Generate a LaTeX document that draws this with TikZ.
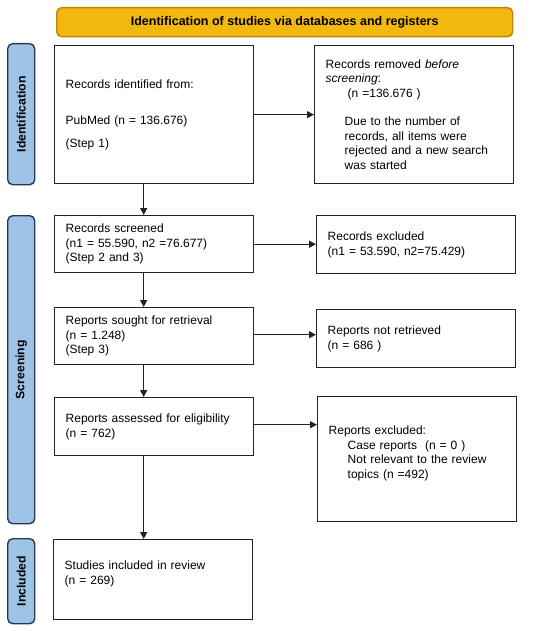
\documentclass[tikz,border=0pt]{standalone}
\usepackage{fontspec}
\setmainfont{Liberation Sans}
\usetikzlibrary{arrows.meta}
\definecolor{bannerfill}{HTML}{F2B80E}
\definecolor{bannerline}{HTML}{B8880A}
\definecolor{sidefill}{HTML}{9DC3E6}
\definecolor{sideline}{HTML}{2B3A4A}
\definecolor{boxline}{HTML}{222222}
\tikzset{
  x=1pt, y=-1pt,
  stagebox/.style={draw=boxline, line width=1.4pt, fill=white, anchor=north west,
    minimum width=199pt, text width=177pt, inner xsep=11pt, inner ysep=2pt, align=left,
    font=\fontsize{12}{14.5}\selectfont},
  sidebar/.style={draw=sideline, line width=1.4pt, fill=sidefill, rounded corners=5pt,
    anchor=north west, minimum width=27pt, inner sep=0pt},
  sidelabel/.style={rotate=90, font=\bfseries\fontsize{12.2}{14}\selectfont, text=black},
  arr/.style={line width=1.4pt, draw=boxline, -{Triangle[length=7pt,width=7pt]}}
}
\begin{document}
\begin{tikzpicture}
\useasboundingbox (0,0) rectangle (550,631);
\fill[white] (0,0) rectangle (550,631);
% banner
\node[draw=bannerline, line width=1.4pt, fill=bannerfill, rounded corners=5pt, anchor=north west,
  minimum width=456pt, minimum height=29pt, inner sep=0pt,
  font=\bfseries\fontsize{12.5}{14}\selectfont] (banner) at (56,7)
  {Identification of studies via databases and registers};
% side bars
\node[sidebar, minimum height=141pt] (sideid) at (7,43) {};
\node[sidelabel] (lblid) at (sideid.center) {Identification};
\node[sidebar, minimum height=308pt] (sidescr) at (7,215) {};
\node[sidelabel] (lblscr) at (sidescr.center) {Screening};
\node[sidebar, minimum height=85pt] (sideinc) at (7,538) {};
\node[sidelabel] (lblinc) at (sideinc.center) {Included};
% boxes
\node[stagebox, minimum height=138pt] (ident) at (54,45)
  {Records identified from:\\[21.5pt]
   PubMed (n = 136.676)\\[8.5pt]
   (Step 1)};
\node[stagebox, minimum height=138pt] (removed) at (314,45)
  {Records removed \textit{before}\\
   \textit{screening}:\\
   \hspace*{22pt}(n =136.676 )\\[14pt]
   \hspace*{19pt}Due to the number of\\
   \hspace*{19pt}records, all items were\\
   \hspace*{19pt}rejected and a new search\\
   \hspace*{19pt}was started};
\node[stagebox, minimum height=57pt] (screened) at (54,215)
  {Records screened\\
   (n1 = 55.590, n2 =76.677)\\
   (Step 2 and 3)};
\node[stagebox, minimum height=58pt] (excluded) at (316,215)
  {Records excluded\\
   (n1 = 53.590, n2=75.429)};
\node[stagebox, minimum height=57pt] (sought) at (54,307)
  {Reports sought for retrieval\\
   (n = 1.248)\\
   (Step 3)};
\node[stagebox, minimum height=58pt] (notret) at (316,309)
  {Reports not retrieved\\
   (n = 686 )};
\node[stagebox, minimum height=58pt] (assessed) at (54,397)
  {Reports assessed for eligibility\\
   (n = 762)};
\node[stagebox, minimum height=125pt] (repexcl) at (317,396)
  {Reports excluded:\\
   \hspace*{19pt}Case reports\ \ (n = 0 )\\
   \hspace*{19pt}Not relevant to the review\\
   \hspace*{19pt}topics (n =492)\\
   \mbox{}};
\node[stagebox, minimum height=80pt, inner xsep=9pt] (included) at (53,539)
  {Studies included in review\\
   (n = 269)\\
   \mbox{}};
% arrows
\draw[arr] (ident.east) -- (ident.east -| removed.west);
\draw[arr] (screened.east) -- (screened.east -| excluded.west);
\draw[arr] ([yshift=1.5pt]sought.east) -- ([yshift=1.5pt]sought.east -| notret.west);
\draw[arr] ([yshift=2pt]assessed.east) -- ([yshift=2pt]assessed.east -| repexcl.west);
\draw[arr] ([xshift=-10.5pt]ident.south) -- ([xshift=-10.5pt]ident.south |- screened.north);
\draw[arr] ([xshift=-10.5pt]screened.south) -- ([xshift=-10.5pt]screened.south |- sought.north);
\draw[arr] ([xshift=-10.5pt]sought.south) -- ([xshift=-10.5pt]sought.south |- assessed.north);
\draw[arr] ([xshift=-10.5pt]assessed.south) -- ([xshift=-10.5pt]assessed.south |- included.north);
\end{tikzpicture}
\end{document}
